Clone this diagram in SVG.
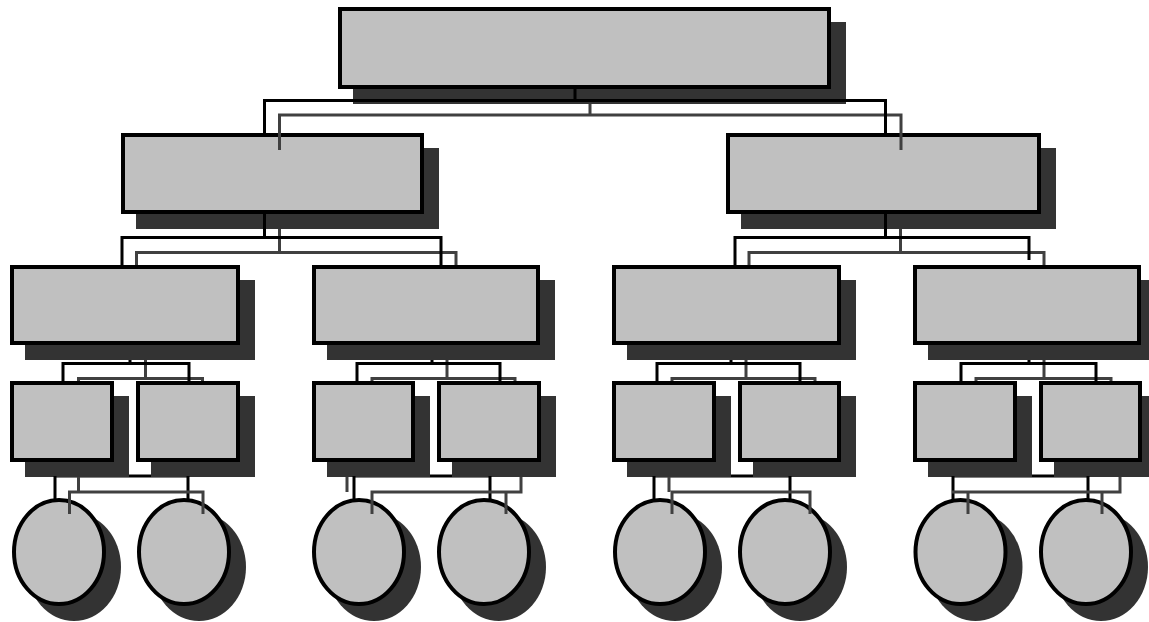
<svg xmlns="http://www.w3.org/2000/svg" width="1149" height="622" viewBox="0 0 1149 622">
  <style>
    .shadow { fill: #333333; }
    .box { fill: #c0c0c0; stroke: #000000; stroke-width: 4; }
    .link { fill: none; stroke: #000000; stroke-width: 3; stroke-linejoin: miter; }
    .link-shade { fill: none; stroke: #404040; stroke-width: 3; stroke-linejoin: miter; }
  </style>
  <rect width="1149" height="622" fill="#ffffff"/>

  <!-- links hidden partly under the lower-level shadows -->
  <g id="connectors-under">
    <path class="link" d="M55,476 H188 M953,476 H1088 M354,476 H490 M654,476 H790"/>
  </g>

  <!-- level 1 -->
  <g id="n-root">
    <rect class="shadow" x="353" y="22" width="493" height="82"/>
    <rect class="box" x="340" y="9" width="489" height="78"/>
  </g>

  <!-- level 2 -->
  <g id="n-a">
    <rect class="shadow" x="136" y="148" width="303" height="81"/>
    <rect class="box" x="123" y="135" width="299" height="77"/>
  </g>
  <g id="n-b">
    <rect class="shadow" x="741" y="148" width="315" height="81"/>
    <rect class="box" x="728" y="135" width="311" height="77"/>
  </g>

  <!-- level 3 -->
  <g id="n-a1">
    <rect class="shadow" x="25" y="280" width="230" height="80"/>
    <rect class="box" x="12" y="267" width="226" height="76"/>
  </g>
  <g id="n-a2">
    <rect class="shadow" x="327" y="280" width="228" height="80"/>
    <rect class="box" x="314" y="267" width="224" height="76"/>
  </g>
  <g id="n-b1">
    <rect class="shadow" x="627" y="280" width="229" height="80"/>
    <rect class="box" x="614" y="267" width="225" height="76"/>
  </g>
  <g id="n-b2">
    <rect class="shadow" x="928" y="280" width="228" height="80"/>
    <rect class="box" x="915" y="267" width="224" height="76"/>
  </g>

  <!-- level 4 -->
  <g id="n-a1-1">
    <rect class="shadow" x="25" y="396" width="104" height="81"/>
    <rect class="box" x="12" y="383" width="100" height="77"/>
  </g>
  <g id="n-a1-2">
    <rect class="shadow" x="151" y="396" width="104" height="81"/>
    <rect class="box" x="138" y="383" width="100" height="77"/>
  </g>
  <g id="n-a2-1">
    <rect class="shadow" x="327" y="396" width="103" height="81"/>
    <rect class="box" x="314" y="383" width="99" height="77"/>
  </g>
  <g id="n-a2-2">
    <rect class="shadow" x="452" y="396" width="104" height="81"/>
    <rect class="box" x="439" y="383" width="100" height="77"/>
  </g>
  <g id="n-b1-1">
    <rect class="shadow" x="627" y="396" width="104" height="81"/>
    <rect class="box" x="614" y="383" width="100" height="77"/>
  </g>
  <g id="n-b1-2">
    <rect class="shadow" x="753" y="396" width="103" height="81"/>
    <rect class="box" x="740" y="383" width="99" height="77"/>
  </g>
  <g id="n-b2-1">
    <rect class="shadow" x="928" y="396" width="104" height="81"/>
    <rect class="box" x="915" y="383" width="100" height="77"/>
  </g>
  <g id="n-b2-2">
    <rect class="shadow" x="1054" y="396" width="103" height="81"/>
    <rect class="box" x="1041" y="383" width="99" height="77"/>
  </g>

  <!-- level 5 -->
  <g id="n-a1-1-1">
    <ellipse class="shadow" cx="74" cy="567" rx="47" ry="54"/>
    <ellipse class="box" cx="59" cy="552" rx="45" ry="52"/>
  </g>
  <g id="n-a1-2-1">
    <ellipse class="shadow" cx="199" cy="567" rx="47" ry="54"/>
    <ellipse class="box" cx="184" cy="552" rx="45" ry="52"/>
  </g>
  <g id="n-a2-1-1">
    <ellipse class="shadow" cx="374" cy="567" rx="47" ry="54"/>
    <ellipse class="box" cx="359" cy="552" rx="45" ry="52"/>
  </g>
  <g id="n-a2-2-1">
    <ellipse class="shadow" cx="499" cy="567" rx="47" ry="54"/>
    <ellipse class="box" cx="484" cy="552" rx="45" ry="52"/>
  </g>
  <g id="n-b1-1-1">
    <ellipse class="shadow" cx="675" cy="567" rx="47" ry="54"/>
    <ellipse class="box" cx="660" cy="552" rx="45" ry="52"/>
  </g>
  <g id="n-b1-2-1">
    <ellipse class="shadow" cx="800" cy="567" rx="47" ry="54"/>
    <ellipse class="box" cx="785" cy="552" rx="45" ry="52"/>
  </g>
  <g id="n-b2-1-1">
    <ellipse class="shadow" cx="975.5" cy="567" rx="47" ry="54"/>
    <ellipse class="box" cx="960.5" cy="552" rx="45" ry="52"/>
  </g>
  <g id="n-b2-2-1">
    <ellipse class="shadow" cx="1101" cy="567" rx="47" ry="54"/>
    <ellipse class="box" cx="1086" cy="552" rx="45" ry="52"/>
  </g>

  <!-- visible connector runs, black line plus its offset shade -->
  <g id="connectors">
    <!-- root to level 2 -->
    <path class="link-shade" d="M590,104 V115 M279.5,150 V115 H901 V150"/>
    <path class="link" d="M575,88 V100.5 M264.5,133 V100.5 H885.5 V133"/>
    <!-- level 2 left to level 3 -->
    <path class="link-shade" d="M279.5,229 V252.5 M136.5,265 V252.5 H456 V265"/>
    <path class="link" d="M264.5,213 V237.5 M122,265 V237.5 H441 V265"/>
    <!-- level 2 right to level 3 -->
    <path class="link-shade" d="M900.5,229 V252.5 M749,265 V252.5 H1044 V265"/>
    <path class="link" d="M885.5,213 V237.5 M735,265 V237.5 H1029 V260"/>

    <!-- level 3 to level 4 -->
    <path class="link-shade" d="M145.5,360 V378.5 M78.5,381 V378.5 H202.5 V381"/>
    <path class="link" d="M130,360 V363.5 M63,381 V363.5 H189 V381"/>
    <path class="link-shade" d="M447,360 V378.5 M372,381 V378.5 H515 V381"/>
    <path class="link" d="M432,360 V363.5 M357,381 V363.5 H500 V381"/>
    <path class="link-shade" d="M746,360 V378.5 M672,381 V378.5 H815 V381"/>
    <path class="link" d="M731,360 V363.5 M657,381 V363.5 H800 V381"/>
    <path class="link-shade" d="M1044,360 V378.5 M976,381 V378.5 H1111 V381"/>
    <path class="link" d="M1029,360 V363.5 M961,381 V363.5 H1096 V381"/>

    <!-- level 4 to level 5 -->
    <path class="link" d="M55,476 V500 M188,476 V500"/>
    <path class="link-shade" d="M78.5,477 V492 M69.5,514 V492 H203 V514"/>
    <path class="link" d="M354,476 V500 M490,476 V500"/>
    <path class="link-shade" d="M347,477 V492 M372,514 V492 H521 V477 M506,492 V514"/>
    <path class="link" d="M654,476 V500 M790,476 V500"/>
    <path class="link-shade" d="M669,477 V492 M672,514 V492 H810 V514"/>
    <path class="link" d="M953,476 V500 M1088,476 V500"/>
    <path class="link-shade" d="M1120,477 V492 H952 M968,492 V514 M1102,492 V514"/>
  </g>
</svg>
